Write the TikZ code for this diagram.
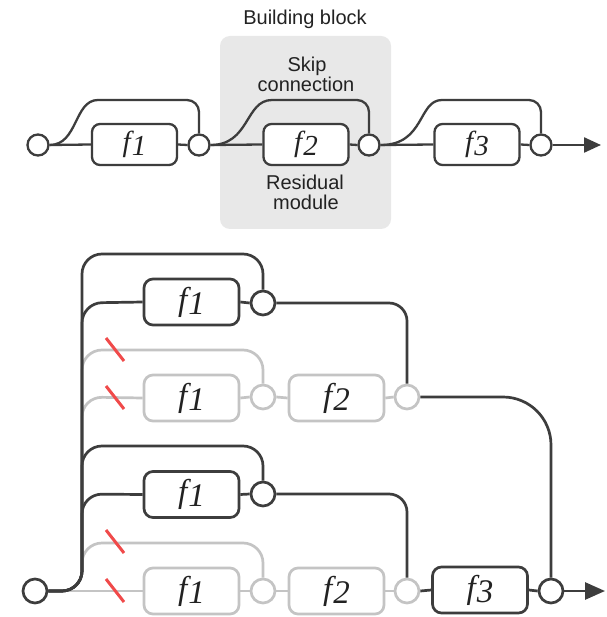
\documentclass[tikz,border=0pt]{standalone}
\usepackage{fontspec}
\setmainfont{Liberation Sans}
\newfontfamily\ffont{Liberation Serif}
\usetikzlibrary{arrows.meta}
\definecolor{dkc}{HTML}{3D3D3D}
\definecolor{gyc}{HTML}{C4C4C4}
\definecolor{bgc}{HTML}{E8E8E8}
\definecolor{redc}{HTML}{F04A4A}
\definecolor{txc}{HTML}{222222}
\newcommand{\flab}[2]{{\fontsize{#1}{#1}\selectfont\color{txc}\ffont\itshape f\kern1pt\raisebox{-0.12em}{#2}}}
\begin{document}
\begin{tikzpicture}[x=1pt,y=-1pt,
  dkT/.style={draw=dkc, line width=2.3pt},
  dkB/.style={draw=dkc, line width=2.7pt},
  gyB/.style={draw=gyc, line width=2.7pt},
  fboxT/.style={rectangle, rounded corners=8pt, line width=2.3pt, minimum width=85pt, minimum height=41pt, inner sep=0pt, fill=white, draw=dkc},
  fboxB/.style={rectangle, rounded corners=9pt, line width=2.7pt, minimum width=95pt, minimum height=46pt, inner sep=0pt, fill=white},
  circT/.style={circle, line width=2.3pt, minimum size=21pt, inner sep=0pt, fill=white, draw=dkc},
  circB/.style={circle, line width=2.7pt, minimum size=24pt, inner sep=0pt, fill=white},
  lbl/.style={font=\fontsize{20}{20}\selectfont, text=txc, inner sep=0pt, anchor=base},
  slash/.style={draw=redc, line width=3pt}
]
\useasboundingbox (0,0) rectangle (606,617);
\fill[white] (0,0) rectangle (606,617);

% building block background
\node[fill=bgc, rounded corners=10pt, minimum width=171pt, minimum height=193pt, inner sep=0pt] (bb) at (305.5,132.5) {};
\node[lbl] (lblB) at (305,25) {Building block};
\node[lbl] (lblS) at (307,72) {Skip};
\node[lbl] (lblC) at (306,92) {connection};
\node[lbl] (lblR) at (305,190) {Residual};
\node[lbl] (lblM) at (306,210) {module};

% top row
\node[circT] (t0) at (38,145) {};
\node[fboxT] (tf1) at (134.5,144.5) {\flab{29}{1}};
\node[circT] (t1) at (199,145) {};
\node[fboxT] (tf2) at (306,144.5) {\flab{29}{2}};
\node[circT] (t2) at (369,145) {};
\node[fboxT] (tf3) at (477,144.5) {\flab{29}{3}};
\node[circT] (t3) at (541,145) {};
\coordinate (tend) at (601,145);

\draw[dkT] (t0.east) -- (tf1.west);
\draw[dkT] (tf1.east) -- (t1.west);
\draw[dkT] (t1.east) -- (tf2.west);
\draw[dkT] (tf2.east) -- (t2.west);
\draw[dkT] (t2.east) -- (tf3.west);
\draw[dkT] (tf3.east) -- (t3.west);
\draw[dkT, -{Triangle[length=17pt,width=15pt]}] (t3.east) -- (tend);

\draw[dkT] (t0.east) .. controls (78,145) and (74,100) .. (98,100) [rounded corners=12pt] -- (199,100) -- (t1.north);
\draw[dkT] (t1.east) .. controls (250,145) and (245,100) .. (272,100) [rounded corners=12pt] -- (369,100) -- (t2.north);
\draw[dkT] (t2.east) .. controls (425,145) and (418,100) .. (442,100) [rounded corners=12pt] -- (541,100) -- (t3.north);

% bottom nodes
\node[circB, draw=dkc] (s) at (35,591) {};
\node[fboxB, draw=dkc] (r1f1) at (191.5,302) {\flab{33}{1}};
\node[circB, draw=dkc] (r1c) at (263,303) {};
\node[fboxB, draw=gyc] (r2f1) at (191.5,398) {\flab{33}{1}};
\node[circB, draw=gyc] (r2c1) at (263,397) {};
\node[fboxB, draw=gyc] (r2f2) at (336.5,398) {\flab{33}{2}};
\node[circB, draw=gyc] (r2c2) at (407,397) {};
\node[fboxB, draw=dkc] (r3f1) at (191.5,494.5) {\flab{33}{1}};
\node[circB, draw=dkc] (r3c) at (263,494) {};
\node[fboxB, draw=gyc] (r4f1) at (191.5,591) {\flab{33}{1}};
\node[circB, draw=gyc] (r4c1) at (263,591) {};
\node[fboxB, draw=gyc] (r4f2) at (336.5,591) {\flab{33}{2}};
\node[circB, draw=gyc] (r4c2) at (407,591) {};
\node[fboxB, draw=dkc] (r4f3) at (480,590) {\flab{33}{3}};
\node[circB, draw=dkc] (r4c3) at (551,591) {};
\coordinate (bend) at (605,591);

% gray paths
\draw[gyB, rounded corners=20pt] (s.east) -- (82,591) -- (82,350) -- (263,350) [rounded corners=12pt] -- (r2c1.north);
\draw[gyB, rounded corners=20pt] (s.east) -- (82,591) -- (82,397) -- (r2f1.west);
\draw[gyB, rounded corners=20pt] (s.east) -- (82,591) -- (82,543) -- (263,543) [rounded corners=12pt] -- (r4c1.north);
\draw[gyB] (s.east) -- (r4f1.west);
\draw[gyB] (r2f1.east) -- (r2c1.west);
\draw[gyB] (r2c1.east) -- (r2f2.west);
\draw[gyB] (r2f2.east) -- (r2c2.west);
\draw[gyB] (r4f1.east) -- (r4c1.west);
\draw[gyB] (r4c1.east) -- (r4f2.west);
\draw[gyB] (r4f2.east) -- (r4c2.west);

% dark paths
\draw[dkB, rounded corners=20pt] (s.east) -- (82,591) -- (82,254) -- (263,254) [rounded corners=12pt] -- (r1c.north);
\draw[dkB, rounded corners=20pt] (s.east) -- (82,591) -- (82,303) -- (r1f1.west);
\draw[dkB, rounded corners=20pt] (s.east) -- (82,591) -- (82,446) -- (263,446) [rounded corners=12pt] -- (r3c.north);
\draw[dkB, rounded corners=20pt] (s.east) -- (82,591) -- (82,494) -- (r3f1.west);
\draw[dkB] (r1f1.east) -- (r1c.west);
\draw[dkB] (r3f1.east) -- (r3c.west);
\draw[dkB, rounded corners=18pt] (r1c.east) -- (407,303) -- (r2c2.north);
\draw[dkB, rounded corners=18pt] (r3c.east) -- (407,494) -- (r4c2.north);
\draw[dkB, rounded corners=48pt] (r2c2.east) -- (551,397) -- (r4c3.north);
\draw[dkB] (r4c2.east) -- (r4f3.west);
\draw[dkB] (r4f3.east) -- (r4c3.west);
\draw[dkB, -{Triangle[length=20pt,width=17pt]}] (r4c3.east) -- (bend);

% red cuts
\draw[slash] (106,338) -- (124,361);
\draw[slash] (106,386) -- (124,409);
\draw[slash] (106,530) -- (124,553);
\draw[slash] (106,579) -- (124,602);
\end{tikzpicture}
\end{document}
